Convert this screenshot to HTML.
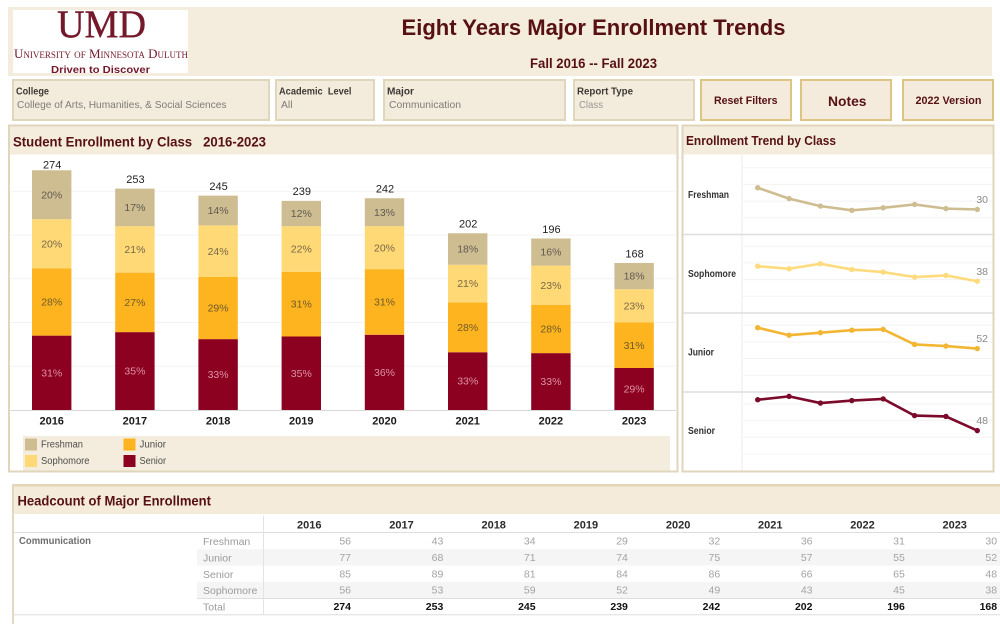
<!DOCTYPE html>
<html lang="en">
<head>
<meta charset="utf-8">
<title>Eight Years Major Enrollment Trends</title>
<style>
html,body{margin:0;padding:0;background:#fff;width:1000px;height:624px;overflow:hidden}
svg{display:block}
text{font-family:"Liberation Sans",Arial,sans-serif;dominant-baseline:central;transform:translateY(.6px)}
text.logo-text{dominant-baseline:alphabetic;transform:none}
.h{font-weight:bold;fill:#571014}
.fl{font-weight:bold;fill:#3d3a36;font-size:10.5px}
.fv{fill:#7f7c78;font-size:10.5px}
.box{fill:#f3ebdb;stroke:#dfd6bc;stroke-width:2}
.btn{fill:#f4ebdc;stroke:#dcc582;stroke-width:2}
</style>
</head>
<body>
<svg id="dash" width="1000" height="624" viewBox="0 0 1000 624" xmlns="http://www.w3.org/2000/svg">
  <rect x="0" y="0" width="1000" height="624" fill="#fff"/>

  <g>
    <rect x="8" y="7" width="984" height="69" fill="#f4ecdc"/>
    <g>
      <rect x="13" y="10" width="175" height="63" fill="#fff"/>
      <text class="logo-text" x="57" y="37" font-size="39" textLength="89" lengthAdjust="spacingAndGlyphs" style="font-family:'Liberation Serif',serif" fill="#74192b" stroke="#74192b" stroke-width="0.4">UMD</text>
      <text class="logo-text" x="14" y="58" font-size="13" textLength="174" lengthAdjust="spacingAndGlyphs" style="font-family:'Liberation Serif',serif;font-variant:small-caps" fill="#74192b">University of Minnesota Duluth</text>
      <text class="logo-text" x="51" y="73" font-size="10.5" font-weight="bold" textLength="99" lengthAdjust="spacingAndGlyphs" fill="#74192b">Driven to Discover</text>
    </g>
    <text class="h" x="401.5" y="27" font-size="22" textLength="384" lengthAdjust="spacingAndGlyphs">Eight Years Major Enrollment Trends</text>
    <text class="h" x="530" y="63" font-size="13.5" textLength="127" lengthAdjust="spacingAndGlyphs">Fall 2016 -- Fall 2023</text>
  </g>

  <g>
    <rect class="box" x="13" y="80" width="256" height="40"/>
    <text class="fl" x="16" y="91" textLength="33" lengthAdjust="spacingAndGlyphs">College</text>
    <text class="fv" x="17" y="104.5" textLength="209.5" lengthAdjust="spacingAndGlyphs">College of Arts, Humanities, &amp; Social Sciences</text>
  </g>
  <g>
    <rect class="box" x="276" y="80" width="98" height="40"/>
    <text class="fl" x="279" y="91" textLength="72.5" lengthAdjust="spacingAndGlyphs" xml:space="preserve">Academic  Level</text>
    <text class="fv" x="281" y="104.5" textLength="11.5" lengthAdjust="spacingAndGlyphs">All</text>
  </g>
  <g>
    <rect class="box" x="384" y="80" width="181" height="40"/>
    <text class="fl" x="387" y="91" textLength="27" lengthAdjust="spacingAndGlyphs">Major</text>
    <text class="fv" x="389" y="104.5" textLength="72" lengthAdjust="spacingAndGlyphs">Communication</text>
  </g>
  <g>
    <rect class="box" x="574" y="80" width="120" height="40"/>
    <text class="fl" x="577" y="91" textLength="56" lengthAdjust="spacingAndGlyphs">Report Type</text>
    <text class="fv" x="579" y="104.5" textLength="24" lengthAdjust="spacingAndGlyphs" style="fill:#9a9792">Class</text>
  </g>

  <g>
    <rect class="btn" x="701" y="80" width="90" height="40"/>
    <text class="h" x="714" y="100.5" font-size="11" textLength="63.5" lengthAdjust="spacingAndGlyphs">Reset Filters</text>
  </g>
  <g>
    <rect class="btn" x="801" y="80" width="90" height="40"/>
    <text class="h" x="828" y="100.5" font-size="14" textLength="38.5" lengthAdjust="spacingAndGlyphs">Notes</text>
  </g>
  <g>
    <rect class="btn" x="903" y="80" width="90" height="40"/>
    <text class="h" x="915.5" y="100.5" font-size="11" textLength="66" lengthAdjust="spacingAndGlyphs">2022 Version</text>
  </g>

  <g id="barPanel">
    <rect x="9" y="125.5" width="668.5" height="346" fill="#fff" stroke="#e0d6bc" stroke-width="2"/>
    <rect x="10" y="126.5" width="666.5" height="28" fill="#f4ecdc"/>
    <text class="h" x="13" y="141" font-size="14" textLength="253" lengthAdjust="spacingAndGlyphs" xml:space="preserve">Student Enrollment by Class   2016-2023</text>
    <g id="barGrid"></g>
    <g id="bars"></g>
    <line x1="10" x2="676" y1="410.5" y2="410.5" stroke="#d9d9d9" stroke-width="1"/>
    <g id="barXAxis"></g>
    <g>
      <rect x="23" y="436" width="647" height="34.5" fill="#f4ecdc"/>
      <g>
        <rect x="25" y="438.5" width="12" height="12" fill="#cfbd92"/>
        <text x="41" y="444.5" font-size="10" fill="#4d4d4d" textLength="42" lengthAdjust="spacingAndGlyphs">Freshman</text>
      </g>
      <g>
        <rect x="25" y="455" width="12" height="12" fill="#ffd975"/>
        <text x="41" y="461" font-size="10" fill="#4d4d4d" textLength="48.5" lengthAdjust="spacingAndGlyphs">Sophomore</text>
      </g>
      <g>
        <rect x="123.5" y="438.5" width="12" height="12" fill="#fdb41f"/>
        <text x="139.5" y="444.5" font-size="10" fill="#4d4d4d" textLength="26.5" lengthAdjust="spacingAndGlyphs">Junior</text>
      </g>
      <g>
        <rect x="123.5" y="455" width="12" height="12" fill="#8c0020"/>
        <text x="139.5" y="461" font-size="10" fill="#4d4d4d" textLength="26.5" lengthAdjust="spacingAndGlyphs">Senior</text>
      </g>
    </g>
  </g>

  <g id="linePanel">
    <rect x="682.5" y="125.5" width="311" height="346" fill="#fff" stroke="#e0d6bc" stroke-width="2"/>
    <rect x="683.5" y="126.5" width="309" height="28" fill="#f4ecdc"/>
    <text class="h" x="686" y="140" font-size="13" textLength="150" lengthAdjust="spacingAndGlyphs">Enrollment Trend by Class</text>
    <line x1="742" x2="742" y1="155" y2="470.5" stroke="#ebebeb" stroke-width="1"/>
    <g id="lines"></g>
  </g>

  <g id="tablePanel">
    <rect x="12" y="484" width="988" height="2.5" fill="#e3d5b5"/>
    <rect x="12" y="484" width="2" height="140" fill="#e3d8bd"/>
    <rect x="14" y="486.5" width="986" height="27.5" fill="#f4ebda"/>
    <text class="h" x="17.5" y="500.5" font-size="13.5" textLength="193.5" lengthAdjust="spacingAndGlyphs">Headcount of Major Enrollment</text>
    <g id="table"></g>
  </g>
</svg>

<script>
const years = [2016, 2017, 2018, 2019, 2020, 2021, 2022, 2023];
const freshman = [56, 43, 34, 29, 32, 36, 31, 30];
const sophomore = [56, 53, 59, 52, 49, 43, 45, 38];
const junior = [77, 68, 71, 74, 75, 57, 55, 52];
const senior = [85, 89, 81, 84, 86, 66, 65, 48];
const barGridTicks = [50, 100, 150, 200, 250];
const lineGridTicks = [20, 40, 60, 80];
const lastYearIndex = years.length - 1;

const NS = 'http://www.w3.org/2000/svg';

function make(tag, parent, attrs, content) {
  const el = document.createElementNS(NS, tag);
  for (const k in attrs) el.setAttribute(k, attrs[k]);
  if (content !== undefined) el.textContent = content;
  parent.appendChild(el);
  return el;
}

/* axis functions */
function xBar(i) { return 51.7 + 83.2 * i; }
function yBar(v) { return 410 - 0.875 * v; }
function xLine(i) { return 757.7 + (977.3 - 757.7) / lastYearIndex * i; }
function yLine(v, bottom) { return bottom - 0.835 * v; }
function xColRight(i) { return 351 + 92.3 * i; }
function xColCenter(i) { return 309.3 + 92.2 * i; }

function totalFor(i) { return freshman[i] + sophomore[i] + junior[i] + senior[i]; }

/* stacked bar chart */
const barGrid = document.getElementById('barGrid');
barGridTicks.forEach(function (t) {
  const g = make('line', barGrid, { x1: 10, x2: 676, y1: yBar(t), y2: yBar(t), stroke: '#f3f3f3', 'stroke-width': 1 });
  
  
});

const stackOrder = [
  { key: 'senior', values: senior, fill: '#8c0020', text: '#dc93a6' },
  { key: 'junior', values: junior, fill: '#fdb41f', text: '#6f5a2a' },
  { key: 'sophomore', values: sophomore, fill: '#ffd975', text: '#77684a' },
  { key: 'freshman', values: freshman, fill: '#cfbd92', text: '#5f5a50' }
];

const barsG = document.getElementById('bars');
const barXAxis = document.getElementById('barXAxis');
years.forEach(function (year, i) {
  const total = totalFor(i);
  let base = 0;
  const col = make('g', barsG, {});
  
  
  stackOrder.forEach(function (s) {
    const v = s.values[i];
    const yTop = yBar(base + v);
    const yBot = yBar(base);
    const r = make('rect', col, { x: xBar(i) - 19.7, y: yTop, width: 39.4, height: yBot - yTop, fill: s.fill });
    
    
    const p = make('text', col, { x: xBar(i), y: (yTop + yBot) / 2, 'text-anchor': 'middle', 'font-size': 10.5, fill: s.text }, Math.round(v / total * 100) + '%');
    
    
    base += v;
  });
  const tl = make('text', col, { x: xBar(i) + 0.5, y: Math.max(yBar(total) - 9.3, 165), 'text-anchor': 'middle', 'font-size': 11, fill: '#222' }, total);
  
  
  const xl = make('text', barXAxis, { x: xBar(i), y: 421, 'text-anchor': 'middle', 'font-size': 11, 'font-weight': 'bold', fill: '#1a1a1a' }, year);
  
  
});

/* small-multiple trend lines */
const linePanels = [
  { key: 'freshman', label: 'Freshman', labelWidth: 41, values: freshman, stroke: '#cfbd92', bottom: 234.5, labelY: 195 },
  { key: 'sophomore', label: 'Sophomore', labelWidth: 48, values: sophomore, stroke: '#ffdb7d', bottom: 313, labelY: 274 },
  { key: 'junior', label: 'Junior', labelWidth: 26, values: junior, stroke: '#f2b632', bottom: 392, labelY: 352.5 },
  { key: 'senior', label: 'Senior', labelWidth: 27, values: senior, stroke: '#7c0a2a', bottom: 470.7, labelY: 431 }
];

const linesG = document.getElementById('lines');
linePanels.forEach(function (p, idx) {
  const g = make('g', linesG, {});
  
  
  lineGridTicks.forEach(function (t) {
    const gl = make('line', g, { x1: 743, x2: 992.5, y1: yLine(t, p.bottom), y2: yLine(t, p.bottom), stroke: '#f3f3f3', 'stroke-width': 1 });
    
    
  });
  if (idx < linePanels.length - 1) {
    const sep = make('line', g, { x1: 683.5, x2: 992.5, y1: p.bottom, y2: p.bottom, stroke: '#dedede', 'stroke-width': 1.4 });
    
    
  }
  const lab = make('text', g, { x: 688, y: p.labelY, 'font-size': 10, 'font-weight': 'bold', fill: '#333', textLength: p.labelWidth, lengthAdjust: 'spacingAndGlyphs' }, p.label);
  
  
  const pts = p.values.map(function (v, i) { return xLine(i) + ',' + yLine(v, p.bottom); }).join(' ');
  const pl = make('polyline', g, { points: pts, fill: 'none', stroke: p.stroke, 'stroke-width': 2.6, 'stroke-linejoin': 'round' });
  
  
  p.values.forEach(function (v, i) {
    const c = make('circle', g, { cx: xLine(i), cy: yLine(v, p.bottom), r: 2.7, fill: p.stroke });
    
    
  });
  const lastV = p.values[lastYearIndex];
  const end = make('text', g, { x: 988, y: yLine(lastV, p.bottom) - 10, 'text-anchor': 'end', 'font-size': 10.5, fill: '#8a8a8a' }, lastV);
  
  
});

/* headcount table */
const tableRows = [
  { label: 'Freshman', values: freshman },
  { label: 'Junior', values: junior },
  { label: 'Senior', values: senior },
  { label: 'Sophomore', values: sophomore }
];
const tableG = document.getElementById('table');
const rowCenters = [541.5, 558, 574.5, 590.5];
const rowTops = [533, 549.2, 565.5, 582];

tableRows.forEach(function (row, r) {
  if (r % 2 === 1) {
    const band = make('rect', tableG, { x: 197, y: rowTops[r], width: 803, height: 16.4, fill: '#f5f5f5' });
    
    
  }
});

const hl1 = make('line', tableG, { x1: 14, x2: 1000, y1: 532.5, y2: 532.5, stroke: '#dedede', 'stroke-width': 1 });


const hl2 = make('line', tableG, { x1: 197, x2: 1000, y1: 598.5, y2: 598.5, stroke: '#dedede', 'stroke-width': 1 });


const hl3 = make('line', tableG, { x1: 14, x2: 1000, y1: 614.7, y2: 614.7, stroke: '#dedede', 'stroke-width': 1 });


const vl = make('line', tableG, { x1: 263.5, x2: 263.5, y1: 516, y2: 614.7, stroke: '#e3e3e3', 'stroke-width': 1 });



const majorCell = make('text', tableG, { x: 19, y: 540.5, 'font-size': 10.5, 'font-weight': 'bold', fill: '#6e6e6e', textLength: 72, lengthAdjust: 'spacingAndGlyphs' }, 'Communication');



years.forEach(function (year, i) {
  const h = make('text', tableG, { x: xColCenter(i), y: 525, 'text-anchor': 'middle', 'font-size': 11, 'font-weight': 'bold', fill: '#2b2b2b' }, year);
  
  
  const t = make('text', tableG, { x: xColRight(i), y: 606.5, 'text-anchor': 'end', 'font-size': 10.5, 'font-weight': 'bold', fill: '#111' }, totalFor(i));
  
  
});

tableRows.forEach(function (row, r) {
  const l = make('text', tableG, { x: 203, y: rowCenters[r], 'font-size': 10.5, fill: '#9b9b9b' }, row.label);
  
  
  row.values.forEach(function (v, i) {
    const c = make('text', tableG, { x: xColRight(i), y: rowCenters[r] - 0.5, 'text-anchor': 'end', 'font-size': 10.5, fill: '#a3a3a3' }, v);
    
    
  });
});

const totalLabel = make('text', tableG, { x: 203, y: 607, 'font-size': 10.5, fill: '#9b9b9b' }, 'Total');


</script>
</body>
</html>
